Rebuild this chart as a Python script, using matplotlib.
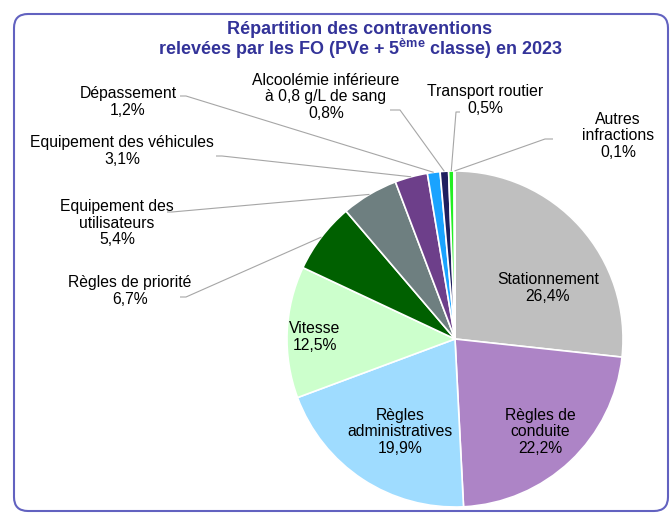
import matplotlib
matplotlib.use("Agg")
import matplotlib.pyplot as plt
from matplotlib.patches import FancyBboxPatch
import numpy as np

plt.rcParams['font.family'] = ['Liberation Sans', 'DejaVu Sans']
plt.rcParams['mathtext.fontset'] = 'custom'
plt.rcParams['mathtext.rm'] = 'Liberation Sans:bold'
plt.rcParams['mathtext.it'] = 'Liberation Sans:bold'
plt.rcParams['mathtext.bf'] = 'Liberation Sans:bold'

# ---- data ----
categories = ["Stationnement", "Règles de\nconduite", "Règles\nadministratives", "Vitesse",
              "Règles de priorité", "Equipement des\nutilisateurs", "Equipement des véhicules",
              "Dépassement", "Alcoolémie inférieure\nà 0,8 g/L de sang", "Transport routier",
              "Autres\ninfractions"]
values = [26.4, 22.2, 19.9, 12.5, 6.7, 5.4, 3.1, 1.2, 0.8, 0.5, 0.1]
value_labels = ["26,4%", "22,2%", "19,9%", "12,5%", "6,7%", "5,4%", "3,1%", "1,2%", "0,8%", "0,5%", "0,1%"]
colors = ["#bfbfbf", "#ad84c6", "#9fdcff", "#ccffcc", "#006000", "#6e7f80", "#6d3f8a",
          "#1aa3ff", "#1f1f5f", "#22ee22", "#ffff99"]
title_lines = ["Répartition des contraventions",
               "relevées par les FO (PVe + 5$^{\\mathrm{ème}}$ classe) en 2023"]

W, H = 670, 513
fig = plt.figure(figsize=(W / 100, H / 100), dpi=100)
ax = fig.add_axes([0, 0, 1, 1])

def P(x, y):
    return x, H - y

cx, cy = P(455, 339)
R = 168
wedges, _ = ax.pie(values, colors=colors, startangle=90, counterclock=False,
                   center=(cx, cy), radius=R, explode=[0.012] * len(values),
                   wedgeprops=dict(edgecolor="white", linewidth=1.2), frame=True)
ax.set_xlim(0, W)
ax.set_ylim(0, H)
ax.axis('off')

# border box
box = FancyBboxPatch(P(14, 511), 654, 497, boxstyle="round,pad=0,rounding_size=14",
                     fill=False, edgecolor="#6262c0", linewidth=1.5, transform=ax.transData,
                     clip_on=False)
ax.add_patch(box)

fs = 11.3
ls = 1.13
# inside labels (pixel positions)
inside_pos = {0: (548, 288), 1: (540, 432), 2: (400, 432), 3: (315, 337)}
for i, (x, y) in inside_pos.items():
    ax.text(*P(x, y), categories[i] + "\n" + value_labels[i], ha="center", va="center",
            fontsize=fs, color="#000000", linespacing=ls)

# outside labels: text centre, elbow start, elbow end
outside = {
    4: ((130, 291), (180, 297), (186, 297)),
    5: ((117, 223), (167, 212), (172, 212)),
    6: ((122, 151), (216, 156), (222, 156)),
    7: ((128, 102), (180, 96), (186, 96)),
    8: ((326, 97), (390, 110), (400, 110)),
    9: ((485, 100), (460, 112), (456, 112)),
    10: ((618, 136), (553, 139), (545, 139)),
}
for i, (tpos, s, e) in outside.items():
    ax.text(*P(*tpos), categories[i] + "\n" + value_labels[i], ha="center", va="center",
            fontsize=fs, color="#000000", linespacing=ls)
    w = wedges[i]
    th = np.deg2rad((w.theta1 + w.theta2) / 2)
    wx = w.center[0] + w.r * np.cos(th)
    wy = w.center[1] + w.r * np.sin(th)
    xs = [P(*s)[0], P(*e)[0], wx]
    ys = [P(*s)[1], P(*e)[1], wy]
    ax.plot(xs, ys, color="#a6a6a6", linewidth=0.8, solid_capstyle="butt")

for line, yb in zip(title_lines, [34, 55]):
    ax.text(*P(360, yb), line, ha="center", va="baseline", fontsize=13, fontweight="bold",
            color="#333399")

fig.savefig("out.png", dpi=100)
